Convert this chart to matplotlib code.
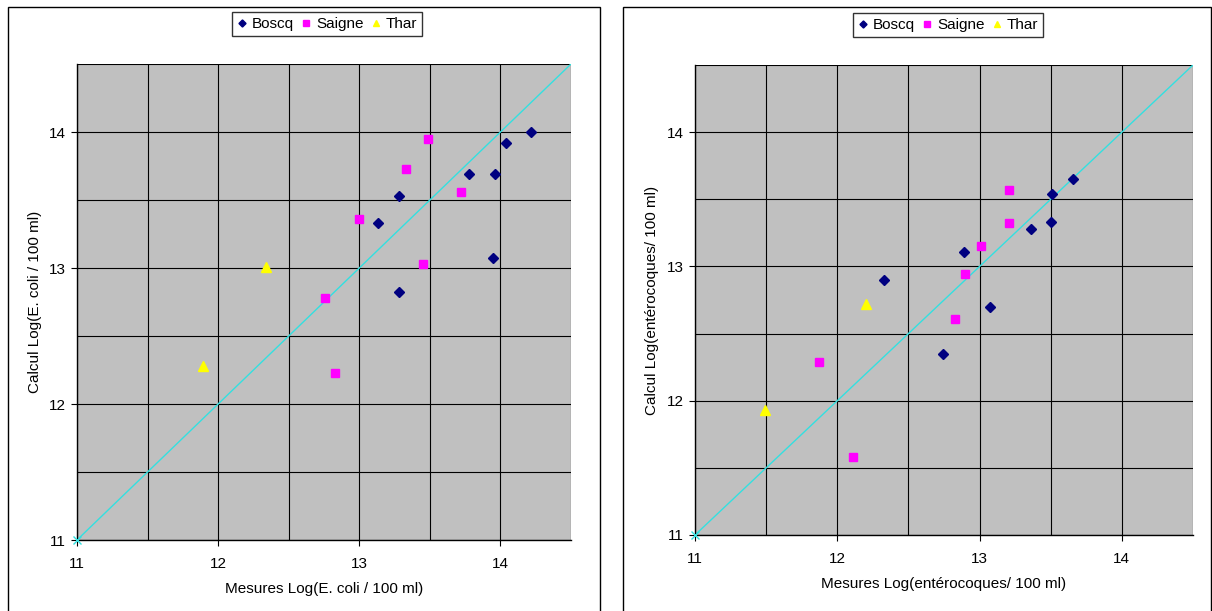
import matplotlib
matplotlib.use("Agg")
import matplotlib.pyplot as plt
from matplotlib.patches import Rectangle

plt.rcParams['font.family'] = ['Liberation Sans', 'DejaVu Sans']

# ---- Data: E. coli (left panel) ----
ecoli_boscq_x = [14.22, 14.04, 13.78, 13.96, 13.28, 13.13, 13.95, 13.28]
ecoli_boscq_y = [14.00, 13.92, 13.69, 13.69, 13.53, 13.33, 13.07, 12.82]
ecoli_saigne_x = [13.49, 13.33, 13.72, 13.00, 13.45, 12.76, 12.83]
ecoli_saigne_y = [13.95, 13.73, 13.56, 13.36, 13.03, 12.78, 12.23]
ecoli_thar_x = [11.89, 12.34]
ecoli_thar_y = [12.28, 13.01]

# ---- Data: enterocoques (right panel) ----
ent_boscq_x = [13.66, 13.51, 13.50, 13.36, 12.89, 13.07, 12.33, 12.74]
ent_boscq_y = [13.65, 13.54, 13.33, 13.28, 13.11, 12.70, 12.90, 12.35]
ent_saigne_x = [13.21, 13.21, 13.01, 12.90, 12.83, 11.87, 12.11]
ent_saigne_y = [13.57, 13.32, 13.15, 12.94, 12.61, 12.29, 11.58]
ent_thar_x = [12.20, 11.49]
ent_thar_y = [12.72, 11.93]

diag = [11, 14.5]
ticks = [11, 12, 13, 14]
series_names = ['Boscq', 'Saigne', 'Thar']

W, H = 1212, 611
fig = plt.figure(figsize=(W / 100, H / 100), dpi=100)

def fx(px):
    return px / W

def fy(py):
    return 1 - py / H

# panel frames
fig.patches.append(Rectangle((fx(8), fy(640)), fx(600 - 8), fy(7) - fy(640),
                             transform=fig.transFigure, fill=False,
                             edgecolor='black', linewidth=1.0))
fig.patches.append(Rectangle((fx(623), fy(640)), fx(1211 - 623), fy(7) - fy(640),
                             transform=fig.transFigure, fill=False,
                             edgecolor='black', linewidth=1.0))

def make_panel(box, bx, by, sx, sy, tx, ty, xlabel, ylabel, legend_center, ylpad):
    l, t, r, b = box
    ax = fig.add_axes([fx(l), fy(b), fx(r - l), fy(t) - fy(b)])
    ax.set_facecolor('#C0C0C0')
    ax.set_xlim(11, 14.5)
    ax.set_ylim(11, 14.5)
    ax.set_xticks(ticks)
    ax.set_yticks(ticks)
    ax.set_xticks([11.5, 12.5, 13.5, 14.5], minor=True)
    ax.set_yticks([11.5, 12.5, 13.5, 14.5], minor=True)
    ax.grid(True, which='both', color='black', linewidth=0.8)
    ax.set_axisbelow(True)
    ax.tick_params(which='major', direction='out', length=4, width=0.8,
                   labelsize=11)
    ax.tick_params(axis='x', which='major', pad=8)
    ax.tick_params(axis='y', which='major', pad=4)
    ax.tick_params(which='minor', length=0)
    for side in ['top', 'right']:
        ax.spines[side].set_visible(False)
    for side in ['left', 'bottom']:
        ax.spines[side].set_color('black')
        ax.spines[side].set_linewidth(1.0)
    ax.plot(diag, diag, color='#33E0E0', linewidth=1.0, zorder=2)
    ax.plot([diag[0]], [diag[0]], marker='x', color='#33E0E0', markersize=6,
            clip_on=False, zorder=5, linestyle='none')
    h1, = ax.plot(bx, by, linestyle='none', marker='D', markersize=4.8,
                  color='#000080', label=series_names[0], zorder=4)
    h2, = ax.plot(sx, sy, linestyle='none', marker='s', markersize=6,
                  color='#FF00FF', label=series_names[1], zorder=4)
    h3, = ax.plot(tx, ty, linestyle='none', marker='^', markersize=6.5,
                  color='#FFFF00', label=series_names[2], zorder=4)
    ax.set_xlabel(xlabel, fontsize=11, labelpad=8)
    ax.set_ylabel(ylabel, fontsize=11, labelpad=ylpad)
    leg = fig.legend(handles=[h1, h2, h3], loc='center',
                     bbox_to_anchor=(fx(legend_center[0]), fy(legend_center[1])),
                     ncol=3, frameon=True, fancybox=False, edgecolor='black',
                     fontsize=11, handlelength=0.7, handletextpad=0.3,
                     columnspacing=0.45, borderpad=0.3, markerscale=0.75,
                     borderaxespad=0)
    leg.get_frame().set_linewidth(1.0)
    return ax

make_panel((77, 64, 571, 540), ecoli_boscq_x, ecoli_boscq_y,
           ecoli_saigne_x, ecoli_saigne_y, ecoli_thar_x, ecoli_thar_y,
           'Mesures Log(E. coli / 100 ml)', 'Calcul Log(E. coli / 100 ml)',
           (327, 24), 5)
make_panel((695, 65, 1193, 535), ent_boscq_x, ent_boscq_y,
           ent_saigne_x, ent_saigne_y, ent_thar_x, ent_thar_y,
           'Mesures Log(entérocoques/ 100 ml)', 'Calcul Log(entérocoques/ 100 ml)',
           (948, 25), 6)

fig.savefig('out.png', dpi=100, facecolor='white')
